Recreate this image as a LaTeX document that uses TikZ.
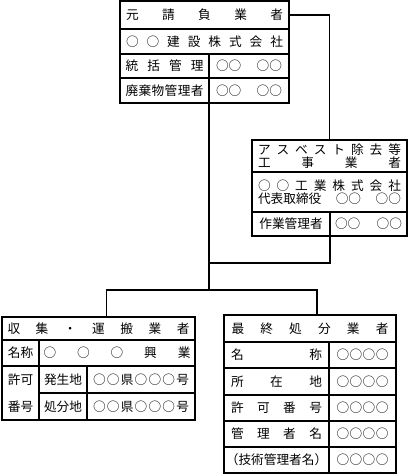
\documentclass[tikz,border=0pt]{standalone}
\usepackage{fontspec}
\newfontfamily\jp{Noto Sans CJK JP}
\newlength{\px}\setlength{\px}{0.75pt}
\newcommand{\spread}[2]{\makebox[#1\px]{#2}}
\tikzset{
  cell/.style={draw, line width=0.8pt, anchor=north west, inner sep=0pt, outer sep=0pt,
    align=center, font=\jp\fontsize{9.5pt}{9.5pt}\selectfont},
  wh/.style 2 args={minimum width=#1\px, minimum height=#2\px},
  link/.style={line width=0.8pt}
}
\begin{document}
\begin{tikzpicture}[x=\px, y=-\px]
   \useasboundingbox (0,0) rectangle (412,474);
   % 元請負業者
   \node[cell, wh={169}{28}] (g1) at (120,1) {\spread{157}{元\hfill 請\hfill 負\hfill 業\hfill 者}};
   \node[cell, wh={169}{25}] (g2) at (g1.south west) {\spread{157}{○\hfill ○\hfill 建\hfill 設\hfill 株\hfill 式\hfill 会\hfill 社}};
   \node[cell, wh={89}{24}] (g3) at (g2.south west) {\spread{78}{統\hfill 括\hfill 管\hfill 理}};
   \node[cell, wh={80}{24}] (g3v) at (g3.north east) {\spread{66}{○○\hfill ○○}};
   \node[cell, wh={89}{25}] (g4) at (g3.south west) {\spread{78}{廃\hfill 棄\hfill 物\hfill 管\hfill 理\hfill 者}};
   \node[cell, wh={80}{25}] (g4v) at (g4.north east) {\spread{66}{○○\hfill ○○}};
   % アスベスト除去等工事業者
   \node[cell, wh={155}{32}] (a1) at (252,140) {\spread{143}{ア\hfill ス\hfill ベ\hfill ス\hfill ト\hfill 除\hfill 去\hfill 等}\\
      \spread{143}{工\hfill 事\hfill 業\hfill 者}};
   \node[cell, wh={155}{40}] (a2) at (a1.south west) {\spread{143}{○\hfill ○\hfill 工\hfill 業\hfill 株\hfill 式\hfill 会\hfill 社}\\
      \spread{143}{代表取締役\hfill ○○\hfill ○○}};
   \node[cell, wh={78}{24}] (a3) at (a2.south west) {作業管理者};
   \node[cell, wh={77}{24}] (a3v) at (a3.north east) {\spread{67}{○○\hfill ○○}};
   % 収集・運搬業者
   \node[cell, wh={193}{23}] (c1) at (2,317) {\spread{182}{収\hfill 集\hfill ・\hfill 運\hfill 搬\hfill 業\hfill 者}};
   \node[cell, wh={37}{26}] (c2) at (c1.south west) {名称};
   \node[cell, wh={156}{26}] (c2v) at (c2.north east) {\spread{147}{○\hfill ○\hfill ○\hfill 興\hfill 業}};
   \node[cell, wh={37}{54}, font=\jp\fontsize{9.5pt}{20pt}\selectfont] (c3) at (c2.south west) {許可\\番号};
   \node[cell, wh={48}{27}] (c3m) at (c3.north east) {発生地};
   \node[cell, wh={108}{27}] (c3v) at (c3m.north east) {\spread{96}{○\hfill ○\hfill 県\hfill ○\hfill ○\hfill ○\hfill 号}};
   \node[cell, wh={48}{27}] (c4m) at (c3m.south west) {処分地};
   \node[cell, wh={108}{27}] (c4v) at (c4m.north east) {\spread{96}{○\hfill ○\hfill 県\hfill ○\hfill ○\hfill ○\hfill 号}};
   % 最終処分業者
   \node[cell, wh={172}{27}] (d1) at (224,315) {\spread{157}{最\hfill 終\hfill 処\hfill 分\hfill 業\hfill 者}};
   \node[cell, wh={105}{26}] (d2) at (d1.south west) {\spread{91}{名\hfill 称}};
   \node[cell, wh={67}{26}] (d2v) at (d2.north east) {\spread{52}{○\hfill ○\hfill ○\hfill ○}};
   \node[cell, wh={105}{27}] (d3) at (d2.south west) {\spread{91}{所\hfill 在\hfill 地}};
   \node[cell, wh={67}{27}] (d3v) at (d3.north east) {\spread{52}{○\hfill ○\hfill ○\hfill ○}};
   \node[cell, wh={105}{26}] (d4) at (d3.south west) {\spread{91}{許\hfill 可\hfill 番\hfill 号}};
   \node[cell, wh={67}{26}] (d4v) at (d4.north east) {\spread{52}{○\hfill ○\hfill ○\hfill ○}};
   \node[cell, wh={105}{26}] (d5) at (d4.south west) {\spread{91}{管\hfill 理\hfill 者\hfill 名}};
   \node[cell, wh={67}{26}] (d5v) at (d5.north east) {\spread{52}{○\hfill ○\hfill ○\hfill ○}};
   \node[cell, wh={105}{26}] (d6) at (d5.south west) {（技術管理者名）};
   \node[cell, wh={67}{26}] (d6v) at (d6.north east) {\spread{52}{○\hfill ○\hfill ○\hfill ○}};
   % connectors
   \coordinate (hub) at (209,290);
   \coordinate (join) at (209,263);
   \draw[link] (g1.east) -| (a1.north);
   \draw[link] (g4.south east) -- (hub);
   \draw[link] (a3.south east) |- (join);
   \draw[link] ([xshift=8\px]c1.north) |- (hub) -| ([xshift=7\px]d1.north);
\end{tikzpicture}
\end{document}
